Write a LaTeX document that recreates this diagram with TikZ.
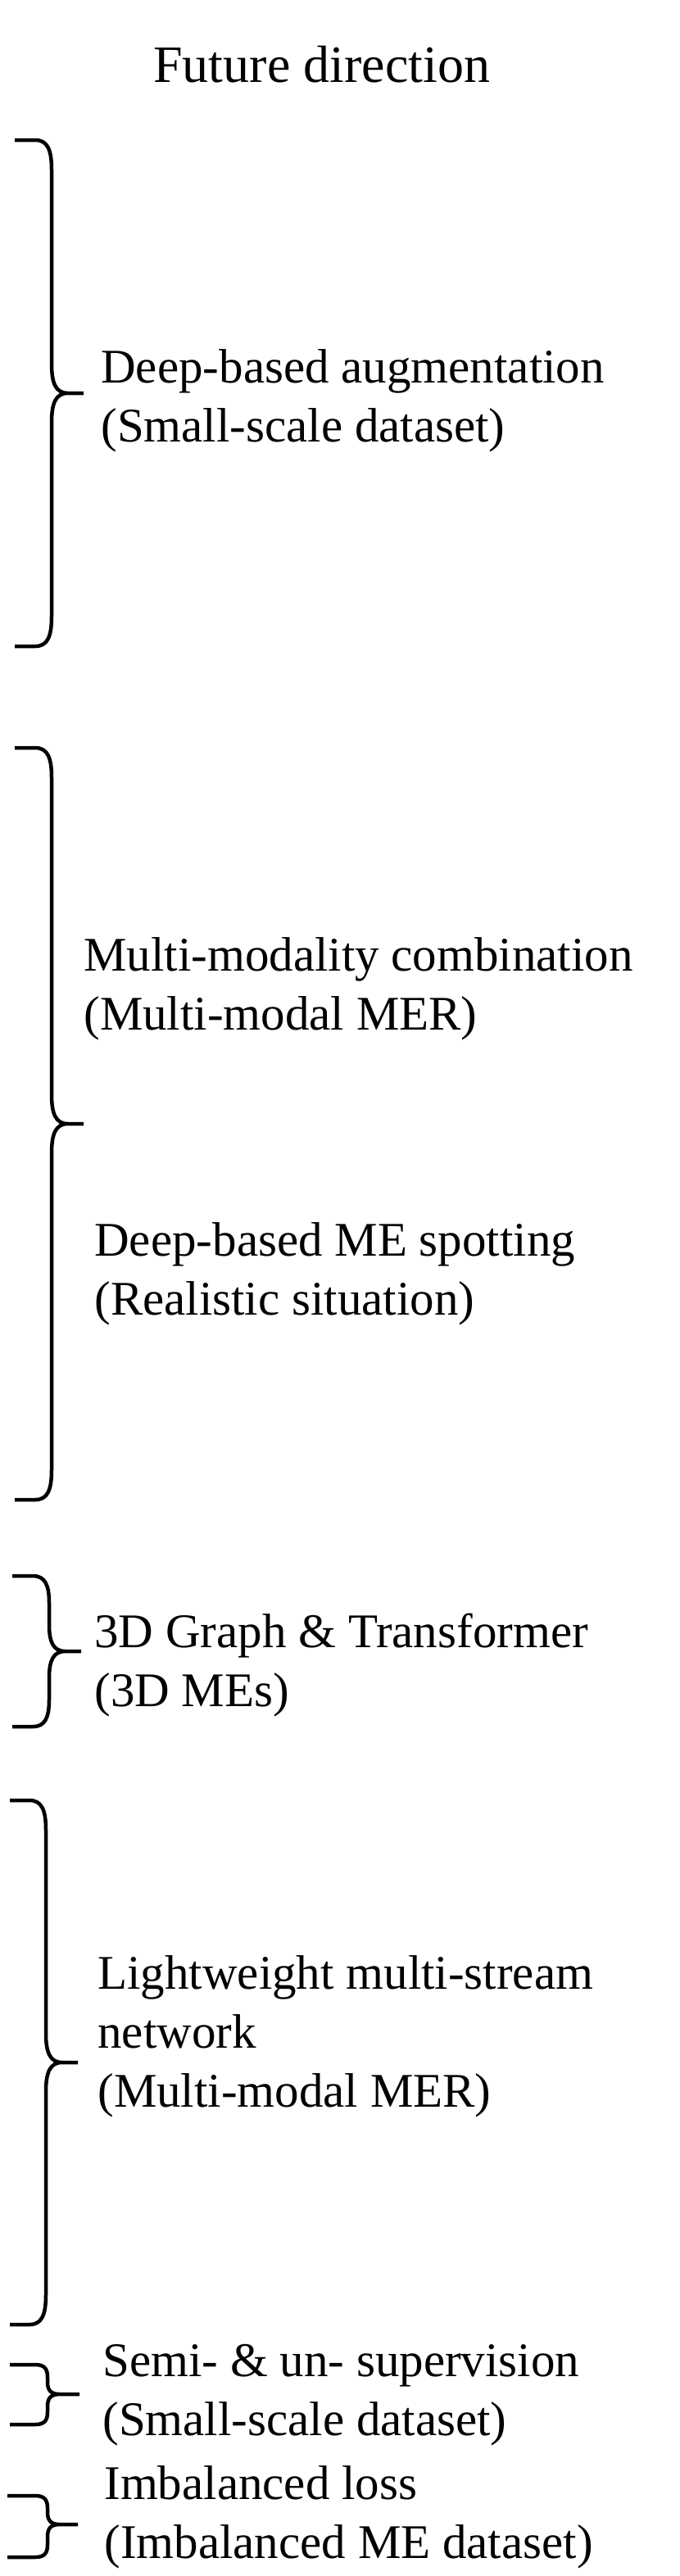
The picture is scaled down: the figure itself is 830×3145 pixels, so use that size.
\documentclass[tikz,border=0pt]{standalone}
\usepackage{fontspec}
\setmainfont{Liberation Serif}
\usetikzlibrary{positioning, calc}

\begin{document}
\begin{tikzpicture}[x=0.5pt, y=-0.5pt,
		bracepen/.style={line width=2.25pt, line join=round},
		item/.style={anchor=base west, align=left, inner sep=0pt, font=\fontsize{29.5pt}{36pt}\selectfont},
		heading/.style={anchor=base west, inner sep=0pt, font=\fontsize{32pt}{38pt}\selectfont}]
		\useasboundingbox (0,0) rectangle (830,3145);
		\node[heading] (title) at (187,100) {Future direction};
		% braces: top/tip/bottom, left end, spine, tip end, corner height, corner width
		\foreach \t/\m/\b/\l/\s/\p/\c/\h [count=\i] in {171/480/789/18/63/102/36/20, 913/1372/1831/18/63/102/36/20, 1924/2016/2108/15/60/99/33/20, 2198/2518/2838/12/56/95/36/20, 2887/2923/2960/12/58/97/15/15, 3047/3082/3122/9/58/95/15/15} {
			\coordinate (tip\i) at (\p,\m);
			\draw[bracepen] (\l,\t) -- ({\s-\h},\t) .. controls ({\s-\h/4},\t) and (\s,{\t+\c/3}) .. (\s,{\t+\c}) -- (\s,{\m-\c}) .. controls (\s,{\m-\c/3}) and ({\s+\h/4},\m) .. ({\s+\h},\m) -- (tip\i)
				({\s+\h},\m) .. controls ({\s+\h/4},\m) and (\s,{\m+\c/3}) .. (\s,{\m+\c}) -- (\s,{\b-\c}) .. controls (\s,{\b-\c/3}) and ({\s-\h/4},\b) .. ({\s-\h},\b) -- (\l,\b);
		}
		% base anchor sits on the last line
		\node[item] (aug) at (123,539) {Deep-based augmentation\\(Small-scale dataset)};
		\node[item] (modal) at (102,1257) {Multi-modality combination\\(Multi-modal MER)};
		\node[item] (spot) at (115,1605) {Deep-based ME spotting\\(Realistic situation)};
		\node[item] (graph) at (115,2083) {3D Graph \& Transformer\\(3D MEs)};
		\node[item] (light) at (119,2572) {Lightweight multi-stream\\network\\(Multi-modal MER)};
		\node[item] (semi) at (125,2973) {Semi- \& un- supervision\\(Small-scale dataset)};
		\node[item] (imbal) at (127,3123) {Imbalanced loss\\(Imbalanced ME dataset)};
	\end{tikzpicture}
\end{document}
